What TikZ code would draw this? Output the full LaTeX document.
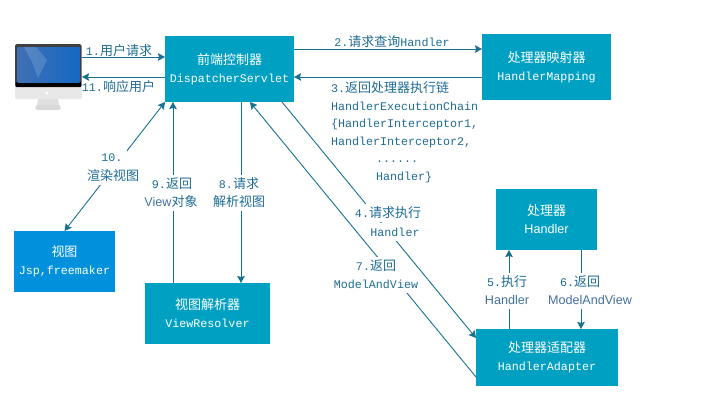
\documentclass[tikz,border=0pt]{standalone}
\usepackage{fontspec}
\usetikzlibrary{arrows.meta}
\setmainfont{Liberation Mono}
\newfontfamily\cjkfont{Noto Sans CJK SC}
\newfontfamily\latinfont{Liberation Sans}
\newcommand{\zh}[1]{{\cjkfont\fontsize{13}{17.5}\selectfont #1}}
\newcommand{\sn}[1]{{\latinfont\fontsize{12.6}{17.5}\selectfont #1}}
\definecolor{boxteal}{HTML}{00A0C2}
\definecolor{viewblue}{HTML}{0090DC}
\definecolor{linkteal}{HTML}{17708F}
\definecolor{labelteal}{HTML}{1F6C94}
\definecolor{labelblue}{HTML}{44719F}
\definecolor{screenleft}{HTML}{3F70B4}
\definecolor{screenright}{HTML}{1468C4}
\tikzset{
  box/.style={fill=boxteal,text=white,align=center,inner sep=0pt,outer sep=0pt,
    font=\fontsize{11.67}{18}\selectfont},
  link/.style={draw=linkteal,line width=0.9pt,-{Stealth[length=7pt,width=7.5pt,inset=1pt]}},
  lbl/.style={fill=white,text=labelteal,inner xsep=2pt,inner ysep=0pt,minimum height=17.5pt,
    font=\fontsize{11.67}{17.5}\selectfont},
}
\begin{document}
\begin{tikzpicture}[x=1pt,y=-1pt]
\useasboundingbox (0,0) rectangle (724,402);
% the monitor
\node (screen) [minimum width=67pt,minimum height=66pt,inner sep=0pt,outer sep=0pt] at (48.5,77) {};
\fill[gray!25] (38,98) -- (58,98) -- (59,106) -- (37,106) -- cycle;
\fill[gray!30,rounded corners=1.5pt] (35.5,105) rectangle (60.5,110);
\fill[gray!18,rounded corners=1.5pt] (15,80) rectangle (82,99);
\fill[black!75,rounded corners=1.5pt] (15,44) rectangle (81.5,87);
\fill[black] (16,82) rectangle (80.5,87);
\shade[left color=screenleft,right color=screenright] (17.5,47) rectangle (79.5,82);
\fill[white,opacity=0.15] (24,47) -- (36,47) -- (47,60) -- (38,78) -- (32,62) -- cycle;
\fill[white] (47,93) circle (1.6);
% the boxes
\node (dispatcher) [box,minimum width=129pt,minimum height=66pt] at (229.5,69)
  {\zh{前端控制器}\\DispatcherServlet};
\node (mapping) [box,minimum width=129pt,minimum height=66pt] at (546.5,67)
  {\zh{处理器映射器}\\HandlerMapping};
\node (handler) [box,minimum width=101pt,minimum height=61pt] at (546.5,219.5)
  {\zh{处理器}\\\sn{Handler}};
\node (adapter) [box,minimum width=142pt,minimum height=57pt] at (547,357.5)
  {\zh{处理器适配器}\\HandlerAdapter};
\node (resolver) [box,minimum width=125pt,minimum height=61pt] at (207.5,313.5)
  {\zh{视图解析器}\\ViewResolver};
\node (view) [box,fill=viewblue,minimum width=101pt,minimum height=61pt] at (64.5,261.5)
  {\zh{视图}\\Jsp,freemaker};
% the connectors
\draw[link] ([yshift=20pt]screen.east) -- ([yshift=12pt]dispatcher.west);
\draw[link] ([yshift=20pt]dispatcher.east) -- ([yshift=18pt]mapping.west);
\draw[link] ([yshift=-10pt]mapping.west) -- ([yshift=-8pt]dispatcher.east);
\draw[link] ([xshift=52.5pt]dispatcher.south) -- ([yshift=19.5pt]adapter.west);
\draw[link] ([xshift=-38pt]adapter.north) -- ([xshift=-37.5pt]handler.south);
\draw[link] ([xshift=34.5pt]handler.south) -- ([xshift=34pt]adapter.north);
\draw[link] ([yshift=-19.5pt]adapter.west) -- ([xshift=20.5pt]dispatcher.south);
\draw[link] ([xshift=11.5pt]dispatcher.south) -- ([xshift=33.5pt]resolver.north);
\draw[link] ([xshift=-34.5pt]resolver.north) -- ([xshift=-56.5pt]dispatcher.south);
\draw[link,{Stealth[length=7pt,width=7.5pt,inset=1pt]}-{Stealth[length=7pt,width=7.5pt,inset=1pt]}] (dispatcher.south west) -- (view.north);
\draw[link] ([yshift=-8pt]dispatcher.west) -- (screen.east);
% the labels
\node (lblone) [lbl,fill=none] at (119,51) {1.\zh{用户请求}};
\node (lbleleven) [lbl,fill=none] at (118.5,87) {11.\zh{响应用户}};
\node (lbltwo) [lbl,fill=none] at (392,42) {2.\zh{请求查询}Handler};
\node (lblthree) [lbl,fill=none,anchor=north west,inner xsep=0pt,align=left] at (331,81.5)
  {3.\zh{返回处理器执行链}\\HandlerExecutionChain\\\{HandlerInterceptor1,\\HandlerInterceptor2,\\
   \hspace*{45pt}......\\\hspace*{45pt}Handler\}};
\node (lblfoura) [lbl] at (388,213) {4.\zh{请求执行}};
\node (lblfourb) [lbl] at (395,232) {Handler};
\node (lblsevena) [lbl] at (376,266) {7.\zh{返回}};
\node (lblsevenb) [lbl] at (376,284) {ModelAndView};
\node (lblfivea) [lbl] at (507,282) {5.\zh{执行}};
\node (lblfiveb) [lbl,text=labelblue] at (507,300) {\sn{Handler}};
\node (lblsixa) [lbl] at (580,282) {6.\zh{返回}};
\node (lblsixb) [lbl,text=labelblue] at (590,300) {\sn{ModelAndView}};
\node (lbleighta) [lbl] at (239,184) {8.\zh{请求}};
\node (lbleightb) [lbl] at (239,202) {\zh{解析视图}};
\node (lblninea) [lbl] at (172,184) {9.\zh{返回}};
\node (lblnineb) [lbl] at (171,202) {\sn{\textcolor{labelblue}{View}}\zh{对象}};
\node (lbltena) [lbl,inner xsep=4pt] at (112,158) {10.};
\node (lbltenb) [lbl] at (113,176) {\zh{渲染视图}};
\end{tikzpicture}
\end{document}
